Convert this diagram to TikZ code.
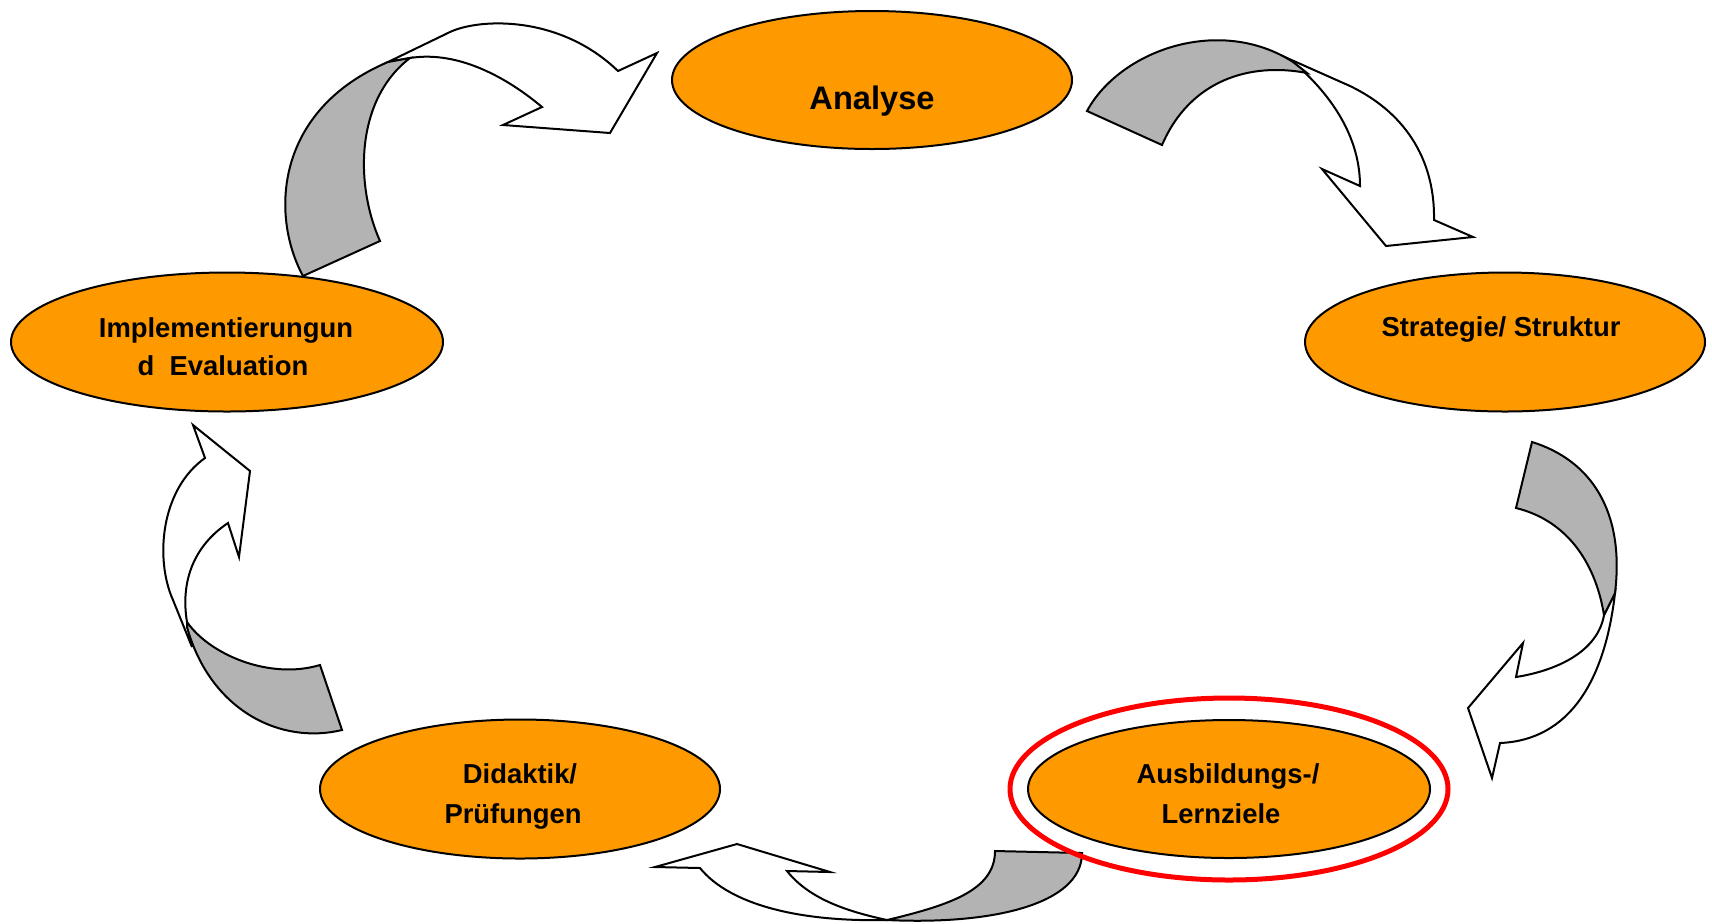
\documentclass[tikz,border=0pt]{standalone}
\usepackage{fontspec}
\setmainfont{Liberation Sans}
\usetikzlibrary{shapes.geometric}
\definecolor{phaseorange}{HTML}{FF9900}
\definecolor{bandgray}{HTML}{B3B3B3}
\definecolor{ringred}{HTML}{FF0000}

\tikzset{
  phase/.style={ellipse, draw=black, line width=1pt, fill=phaseorange, inner sep=0pt, minimum width=200pt, minimum height=69pt},
  phasetext/.style={anchor=base, inner sep=0pt, font=\fontsize{13.7}{20}\selectfont\bfseries},
  backband/.style={draw=black, line width=1pt, fill=bandgray},
  frontband/.style={draw=black, line width=1pt, fill=white}
}

\begin{document}
\begin{tikzpicture}[x=0.5pt, y=-0.5pt]
  \useasboundingbox (0,0) rectangle (1712,923);

    % Implementierung -> Analyse
    \draw[frontband] (388,62) -- (450,32) .. controls (480,18) and (560,15) .. (618,71) -- (657,53) -- (610,133) -- (503,125) -- (542,107) .. controls (510,80) and (460,50) .. (410,58) -- cycle;
    \draw[backband] (303,276) .. controls (270,215) and (275,110) .. (388,62) -- (410,58) .. controls (355,100) and (355,185) .. (380,241) -- cycle;

    % Analyse -> Strategie
    \draw[frontband] (1287,58) -- (1350,86) .. controls (1410,115) and (1435,165) .. (1434,220) -- (1473,237) -- (1386,246) -- (1322,169) -- (1360,186) .. controls (1360,140) and (1335,100) .. (1300,68) -- cycle;
    \draw[backband] (1087,111) .. controls (1120,50) and (1220,15) .. (1293,62) -- (1307,73) .. controls (1250,62) and (1190,80) .. (1162,145) -- cycle;

    % Strategie -> Ausbildungsziele
    \draw[frontband] (1615,593) .. controls (1605,680) and (1570,740) .. (1500,743) -- (1492,778) -- (1468,708) -- (1523,643) -- (1516,677) .. controls (1560,670) and (1598,650) .. (1604,615) -- cycle;
    \draw[backband] (1532,442) .. controls (1590,460) and (1625,510) .. (1615,593) -- (1604,615) .. controls (1595,560) and (1565,520) .. (1516,508) -- cycle;

    % Ausbildungsziele -> Didaktik
    \draw[frontband] (887,920) .. controls (800,922) and (730,905) .. (700,868) -- (655,867) -- (737,844) -- (830,872) -- (787,871) .. controls (810,900) and (850,912) .. (887,920) -- cycle;
    \draw[backband] (995,851) -- (1082,853) .. controls (1082,905) and (990,925) .. (887,920) .. controls (950,905) and (995,890) .. (995,851) -- cycle;

    % Didaktik -> Implementierung
    \draw[frontband] (192,647) -- (173,600) .. controls (155,560) and (160,490) .. (205,458) -- (193,425) -- (250,471) -- (239,557) -- (228,523) .. controls (195,545) and (180,580) .. (187,622) -- cycle;
    \draw[backband] (320,665) -- (342,730) .. controls (280,745) and (210,710) .. (187,627) -- (187,622) .. controls (210,655) and (270,680) .. (320,665) -- cycle;

    % Phasen
    \node[phase] (ana) at (872,80) {};
    \node[phase, minimum height=69.5pt] (str) at (1505,342) {};
    \node[phase, minimum width=216pt, minimum height=69.5pt] (imp) at (227,342) {};
    \node[phase, minimum height=69.5pt] (did) at (520,789) {};
    \node[phase, minimum width=201pt] (aus) at (1229,789) {};
    \node[ellipse, draw=ringred, line width=2.5pt, inner sep=0pt, minimum width=219pt, minimum height=91pt] (ring) at (aus.center) {};

    \node[phasetext, font=\fontsize{16.3}{20}\selectfont\bfseries] (ana-t) at (872,109) {Analyse};
    \node[phasetext] (str-t) at (1501,336) {Strategie/ Struktur};
    \node[phasetext] (imp-t1) at (226,337) {Implementierungun};
    \node[phasetext] (imp-t2) at (223,375) {d\ \ Evaluation};
    \node[phasetext] (did-t1) at (520,783) {Didaktik/};
    \node[phasetext] (did-t2) at (513,823) {Prüfungen};
    \node[phasetext] (aus-t1) at (1228,783) {Ausbildungs-/};
    \node[phasetext] (aus-t2) at (1221,823) {Lernziele};

\end{tikzpicture}
\end{document}
